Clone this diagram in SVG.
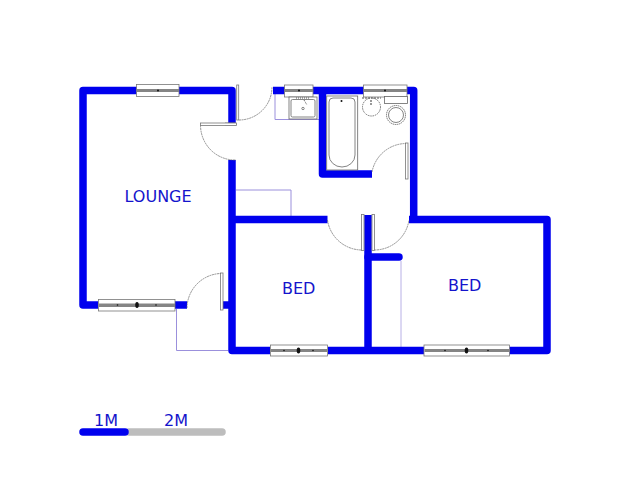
<svg xmlns="http://www.w3.org/2000/svg" width="640" height="480" viewBox="0 0 640 480">
<style>
.wall{fill:none;stroke:#0000ee;stroke-width:7.500;stroke-linecap:butt;stroke-linejoin:round}
.thin{fill:none;stroke:#9b90dc;stroke-width:1}
.arc{fill:none;stroke:#666;stroke-width:.7;stroke-dasharray:2 .6}
.leaf{fill:#fff;stroke:#777;stroke-width:.8}
.fix{fill:#fff;stroke:#666;stroke-width:.8}
.win{fill:#fff;stroke:#777;stroke-width:.8}
.band{fill:#858585}
.dot{fill:#111}
text{font-family:"DejaVu Sans",sans-serif;font-size:16px;fill:#1414cc}
</style>
<rect width="640" height="480" fill="#fff"/>
<g id="thin-lines">
<path class="thin" d="M236 190H291V216"/>
<path class="thin" d="M176.500 309V350.500H228"/>
<path class="thin" d="M275 94V119.500H319"/>
<path class="thin" d="M401 261V347" stroke-opacity=".7"/>
</g>
<g id="connectors">
<path class="wall" d="M98 305H83V90.500H137"/>
<path class="wall" d="M179 90.500H232V123"/>
<path class="wall" d="M175 305H187"/>
<path class="wall" d="M222 305H232"/>
<path class="wall" d="M232 160V350.500H270"/>
<path class="wall" d="M328 350.500H424"/>
<path class="wall" d="M509 350.500H547V219.500H409"/>
<path class="wall" d="M232 219.500H327.500"/>
<path class="wall" d="M273 90.500H413.700V223"/>
<path class="wall" d="M322.500 90.500V174H372"/>
<path class="wall" d="M368 215V350"/>
<path class="wall" style="stroke-linecap:round" d="M368 257H399"/>
</g>
<g id="door-lounge-top">
<rect class="leaf" x="236.700" y="85" width="2" height="35"/>
<path class="leaf" d="M225 123H236V125H225Z"/>
<path class="arc" d="M239 120A33 33 0 0 0 272 87"/>
</g>
<g id="door-lounge">
<rect class="leaf" x="200.500" y="123" width="36" height="2.500"/>
<path class="arc" d="M200.500 125.500A35 35 0 0 0 236 160"/>
</g>
<g id="door-entry">
<rect class="leaf" x="220.500" y="273" width="2.500" height="37"/>
<path class="arc" d="M187 308A35 35 0 0 1 220.500 273.500"/>
</g>
<g id="door-bath">
<rect class="leaf" x="405.500" y="143" width="2.500" height="36"/>
<path class="arc" d="M372 172A35 35 0 0 1 405.500 143.500"/>
</g>
<g id="door-bed1">
<rect class="leaf" x="361.500" y="214.500" width="2.500" height="36"/>
<path class="arc" d="M327.500 220A35 35 0 0 0 361.500 250"/>
</g>
<g id="door-bed2">
<rect class="leaf" x="372" y="214.500" width="2.500" height="36"/>
<path class="arc" d="M374.500 250A35 35 0 0 0 409 220"/>
</g>
<g id="window-lounge">
<rect class="win" x="136.500" y="84.500" width="42.500" height="12"/>
<rect class="band" x="137" y="89" width="42" height="3"/>
<circle class="dot" cx="158" cy="90.500" r="1"/>
</g>
<g id="window-kitchen">
<rect class="win" x="284.500" y="85" width="28.500" height="12"/>
<rect class="band" x="285" y="89" width="28" height="3"/>
<circle class="dot" cx="299" cy="90.500" r="1"/>
</g>
<g id="window-bath">
<rect class="win" x="363.500" y="85" width="43.500" height="12"/>
<rect class="band" x="364" y="89" width="43" height="3"/>
<circle class="dot" cx="385" cy="90.500" r="1"/>
</g>
<g id="window-lounge-bottom">
<rect class="win" x="98.500" y="299.500" width="76.500" height="11.500"/>
<rect class="band" x="99" y="303.500" width="76" height="3.500"/>
<ellipse class="dot" cx="137" cy="305" rx="1.800" ry="3"/>
<circle class="dot" cx="117.500" cy="305" r=".8"/>
<circle class="dot" cx="156" cy="305" r=".8"/>
</g>
<g id="window-bed1">
<rect class="win" x="270.500" y="345" width="57" height="11"/>
<rect class="band" x="271" y="349" width="56" height="3"/>
<ellipse class="dot" cx="298.500" cy="350.500" rx="1.800" ry="3"/>
<circle class="dot" cx="284" cy="350.500" r=".8"/>
<circle class="dot" cx="313" cy="350.500" r=".8"/>
</g>
<g id="window-bed2">
<rect class="win" x="424" y="345" width="85.500" height="11"/>
<rect class="band" x="424.500" y="349" width="85" height="3"/>
<ellipse class="dot" cx="466.500" cy="350.500" rx="1.800" ry="3"/>
<circle class="dot" cx="445" cy="350.500" r=".8"/>
<circle class="dot" cx="488" cy="350.500" r=".8"/>
</g>
<g id="sink">
<rect class="fix" x="289" y="97" width="28" height="22"/>
<rect class="fix" x="291" y="99.500" width="24" height="17.500" rx="1.500"/>
<circle class="fix" cx="303" cy="108.500" r="1.200"/>
<path d="M296 98H309M304 100L307 105" fill="none" stroke="#555" stroke-width="1" stroke-dasharray="1 1"/>
</g>
<g id="bath">
<rect class="fix" x="326.700" y="96" width="31" height="74"/>
<path class="fix" d="M329 102Q329 98 333 98H351Q355 98 355 102V155A13 12 0 0 1 329 155Z"/>
<circle class="dot" cx="341.500" cy="101" r="1"/>
</g>
<g id="basin">
<circle cx="371.500" cy="107" r="9" fill="#fff" stroke="#555" stroke-width=".8" stroke-dasharray="1.500 .8"/>
<path d="M362 98H381M371 100V105" fill="none" stroke="#555" stroke-width="1.200" stroke-dasharray="2 1"/>
</g>
<g id="toilet">
<rect class="fix" x="384.500" y="96.500" width="23" height="7"/>
<circle cx="396" cy="115" r="9.500" fill="#fff" stroke="#555" stroke-width=".8" stroke-dasharray="1.500 .6"/>
<circle class="fix" cx="396" cy="115" r="7.500"/>
</g>
<g id="labels">
<text x="124.500" y="201.500">LOUNGE</text>
<text x="282" y="294">BED</text>
<text x="448" y="291">BED</text>
</g>
<g id="scale">
<path d="M129 432H222" fill="none" stroke="#bdbdbd" stroke-width="7.500" stroke-linecap="round"/>
<path d="M83 432H125" fill="none" stroke="#0000ee" stroke-width="7.500" stroke-linecap="round"/>
<text x="94" y="426">1M</text>
<text x="164" y="426">2M</text>
</g>
</svg>
